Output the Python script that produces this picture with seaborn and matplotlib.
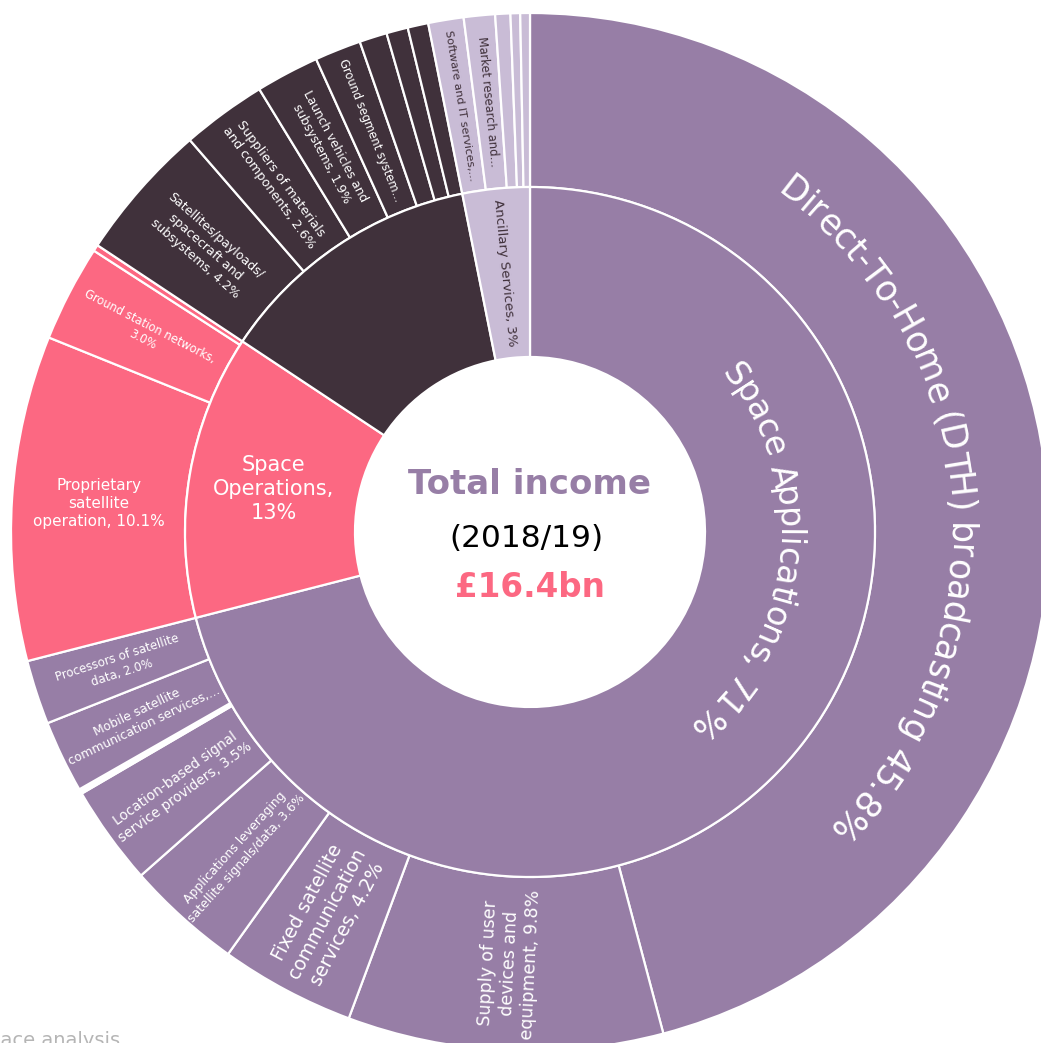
import numpy as np
import matplotlib
matplotlib.use("Agg")
import matplotlib.pyplot as plt
import seaborn as sns
from matplotlib.textpath import TextToPath
from matplotlib.font_manager import FontProperties

# ---------------- data ----------------
group_names = ["Space Applications", "Space Operations", "Space Manufacturing", "Ancillary Services"]
group_labels = ["Space Applications, 71%", "Space\nOperations,\n13%", "", "Ancillary Services, 3%"]

applications_values = [45.8, 9.8, 4.2, 3.6, 3.1, 0.15, 2.25, 2.0]
applications_labels = [
    "Direct-To-Home (DTH) broadcasting 45.8%",
    "Supply of user\ndevices and\nequipment, 9.8%",
    "Fixed satellite\ncommunication\nservices, 4.2%",
    "Applications leveraging\nsatellite signals/data, 3.6%",
    "Location-based signal\nservice providers, 3.5%",
    "",
    "Mobile satellite\ncommunication services,...",
    "Processors of satellite\ndata, 2.0%",
]
operations_values = [10.1, 3.0, 0.2]
operations_labels = ["Proprietary\nsatellite\noperation, 10.1%", "Ground station networks,\n3.0%", ""]
manufacturing_values = [4.3, 2.64, 1.97, 1.44, 0.86, 0.67, 0.64]
manufacturing_labels = [
    "Satellites/payloads/\nspacecraft and\nsubsystems, 4.2%",
    "Suppliers of materials\nand components, 2.6%",
    "Launch vehicles and\nsubsystems, 1.9%",
    "Ground segment system...",
    "", "", "",
]
ancillary_values = [1.1, 0.97, 0.47, 0.3, 0.3]
ancillary_labels = ["Software and IT services,...", "Market research and...", "", "", ""]

center_title = "Total income"
center_period = "(2018/19)"
center_total = "£16.4bn"
source_text = "space analysis"

# ---------------- style ----------------
W, H, DPI = 1041, 1043, 100
CX, CY = 530, H - 532
R_HOLE, R_MID, R_OUT = 175, 345, 519
PURPLE, PINK, DARK, LAVENDER = "#977EA6", "#FC6882", "#40313B", "#C9BCD6"
group_colors = [PURPLE, PINK, DARK, LAVENDER]
group_text_colors = ["white", "white", "white", DARK]
group_fs = [24, 15, 0, 9.5]
group_mode = ["curve", "h", "none", "radial"]
group_curve_angle = [95.5, None, None, None]

child_fs = [
    [25, 12.5, 13.5, 8.9, 9.8, 0, 8.9, 8.5],
    [11, 8.3, 0],
    [9.0, 9.2, 8.7, 8.3, 0, 0, 0],
    [8.1, 8.4, 0, 0, 0],
]
child_mode = [
    ["curve", "radial", "radial", "radial", "radial", "none", "radial", "radial"],
    ["h", "radial", "none"],
    ["radial"] * 4 + ["none"] * 3,
    ["radial"] * 2 + ["none"] * 3,
]
child_curve_angle = [[85.5] + [None] * 7, [None] * 3, [None] * 7, [None] * 5]

sns.set_theme(style="white")
plt.rcParams["font.family"] = ["DejaVu Sans"]

fig = plt.figure(figsize=(W / DPI, H / DPI), dpi=DPI)
ax = fig.add_axes([0, 0, 1, 1])

children_values = [applications_values, operations_values, manufacturing_values, ancillary_values]
children_labels = [applications_labels, operations_labels, manufacturing_labels, ancillary_labels]

inner_vals = [sum(v) for v in children_values]
outer_vals = [x for v in children_values for x in v]
outer_colors = []
for gi, v in enumerate(children_values):
    for ci, _ in enumerate(v):
        outer_colors.append(group_colors[gi])
# the hair-thin slice between location-based and mobile services appears as a white gap
outer_colors[5] = "white"

wp = dict(edgecolor="white", linewidth=1.6)
ax.pie(outer_vals, radius=R_OUT, center=(CX, CY), startangle=90, counterclock=False,
       colors=outer_colors, wedgeprops=dict(width=R_OUT - R_MID, **wp))
ax.pie(inner_vals, radius=R_MID, center=(CX, CY), startangle=90, counterclock=False,
       colors=group_colors, wedgeprops=dict(width=R_MID - R_HOLE, **wp))
ax.set_xlim(0, W)
ax.set_ylim(0, H)
ax.set_aspect("equal")
ax.axis("off")

total = sum(outer_vals)
ttp = TextToPath()


def char_w(c, fs, weight="normal"):
    fp = FontProperties(family="DejaVu Sans", size=fs, weight=weight)
    w1 = ttp.get_text_width_height_descent("|" + c + "|", fp, ismath=False)[0]
    w0 = ttp.get_text_width_height_descent("||", fp, ismath=False)[0]
    return (w1 - w0) * DPI / 72.0


def polar(phi, r):
    return CX + r * np.sin(np.radians(phi)), CY + r * np.cos(np.radians(phi))


def curved_text(text, phi_c, r, fs, color):
    ws = [char_w(c, fs) for c in text]
    L = sum(ws)
    s = -L / 2
    em = fs * DPI / 72.0
    rb = r - 0.36 * em
    for c, w in zip(text, ws):
        sc = s + w / 2
        phi = phi_c + np.degrees(sc / r)
        x, y = polar(phi, rb)
        ax.text(x, y, c, rotation=-phi, rotation_mode="anchor", ha="center", va="baseline",
                fontsize=fs, color=color)
        s += w


def draw_label(phi0, phi1, r0, r1, text, fs, mode, color, curve_angle=None):
    if not text or mode == "none":
        return
    phi = (phi0 + phi1) / 2
    r = (r0 + r1) / 2
    if mode == "curve":
        curved_text(text, curve_angle if curve_angle is not None else phi, r, fs, color)
        return
    if mode == "h":
        rot = 0
    else:
        rot = (270 - phi) if phi > 180 else (90 - phi)
        rot = (rot + 180) % 360 - 180
    x, y = polar(phi, r)
    ax.text(x, y, text, rotation=rot, rotation_mode="anchor", ha="center", va="center",
            multialignment="center", fontsize=fs, color=color, linespacing=1.25)


# inner ring labels
cum = 0.0
for gi, v in enumerate(inner_vals):
    p0 = 360 * cum / total
    p1 = 360 * (cum + v) / total
    draw_label(p0, p1, R_HOLE, R_MID, group_labels[gi], group_fs[gi], group_mode[gi],
               group_text_colors[gi], group_curve_angle[gi])
    cum += v

# outer ring labels
cum = 0.0
for gi, v in enumerate(children_values):
    for ci, val in enumerate(v):
        p0 = 360 * cum / total
        p1 = 360 * (cum + val) / total
        draw_label(p0, p1, R_MID, R_OUT, children_labels[gi][ci], child_fs[gi][ci],
                   child_mode[gi][ci], group_text_colors[gi], child_curve_angle[gi][ci])
        cum += val

# centre text
ax.text(CX, H - 494, center_title, ha="center", va="baseline", fontsize=24.5,
        fontweight="bold", color=PURPLE)
ax.text(CX - 4, H - 547, center_period, ha="center", va="baseline", fontsize=22.5,
        color="black")
ax.text(CX, H - 597, center_total, ha="center", va="baseline", fontsize=23.5,
        fontweight="bold", color=PINK)

# cropped source note at the bottom-left
src_fs = 14
offset = char_w("s", src_fs) + char_w("p", src_fs)
ax.text(-offset, H - 1046, source_text, ha="left", va="baseline", fontsize=src_fs,
        color="#B5B5B5")

fig.savefig("out.png", dpi=DPI, facecolor="white")
